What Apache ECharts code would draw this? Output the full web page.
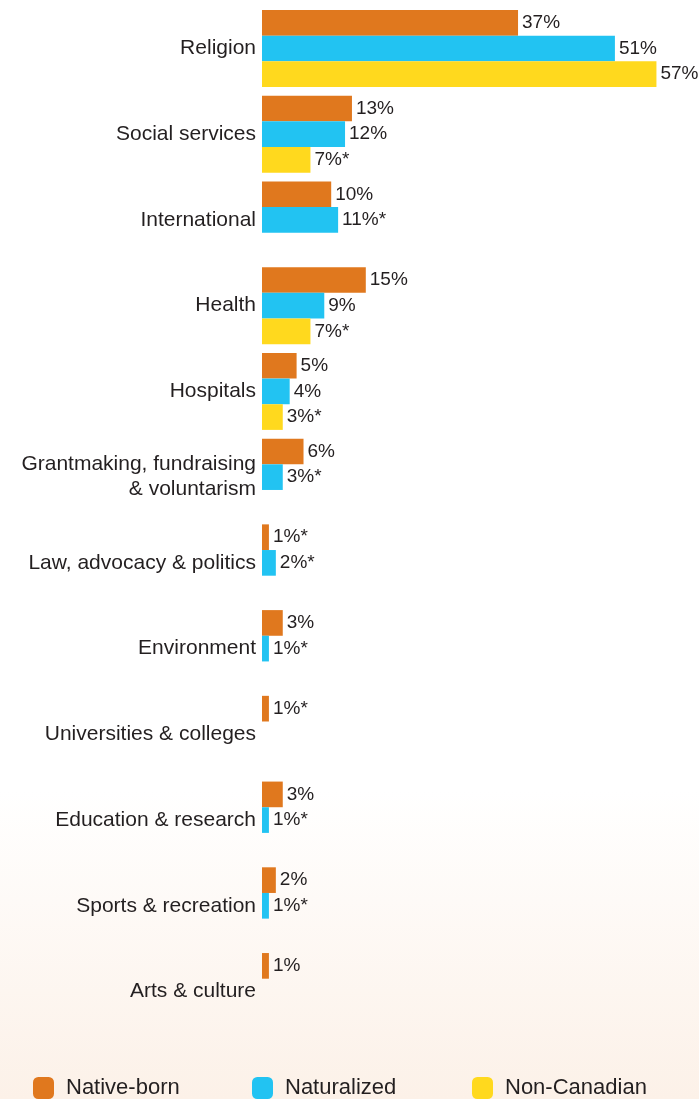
<!DOCTYPE html>
<html>
<head>
<meta charset="utf-8">
<script src="https://cdn.jsdelivr.net/npm/echarts@6/dist/echarts.min.js"></script>
<style>
html,body{margin:0;padding:0;width:699px;height:1099px;overflow:hidden;background:#fff;}
#chart{width:699px;height:1099px;}
</style>
</head>
<body>
<div id="chart"></div>
<script>
const categories = [
  "Religion",
  "Social services",
  "International",
  "Health",
  "Hospitals",
  "Grantmaking, fundraising\n& voluntarism",
  "Law, advocacy & politics",
  "Environment",
  "Universities & colleges",
  "Education & research",
  "Sports & recreation",
  "Arts & culture"
];
const seriesNames = ["Native-born", "Naturalized", "Non-Canadian"];
const nativeBorn   = [37, 13, 10, 15, 5, 6, 1, 3, 1, 3, 2, 1];
const naturalized  = [51, 12, 11, 9, 4, 3, 2, 1, null, 1, 1, null];
const nonCanadian  = [57, 7, null, 7, 3, null, null, null, null, null, null, null];
// asterisk flags (estimate with high sampling variability)
const nativeStar      = [0,0,0,0,0,0,1,0,1,0,0,0];
const naturalizedStar = [0,0,1,0,0,1,1,1,0,1,1,0];
const nonCanadianStar = [0,1,0,1,1,0,0,0,0,0,0,0];
const colors = ["#E0781E", "#22C3F2", "#FFD91E"];

const chart = echarts.init(document.getElementById('chart'), null, {renderer: 'canvas'});
const FONT = 'Arial, Helvetica, sans-serif';

function mkSeries(i, vals, stars) {
  return {
    name: seriesNames[i],
    type: 'bar',
    data: vals,
    itemStyle: {color: colors[i]},
    barGap: '0%',
    barCategoryGap: '10.2%',
    label: {
      show: true,
      position: 'right',
      distance: 4,
      color: '#231F20',
      fontFamily: FONT,
      fontSize: 19,
      formatter: p => p.value == null ? '' : (p.value + '%' + (stars[p.dataIndex] ? '*' : ''))
    },
    emphasis: {disabled: true},
    animation: false
  };
}

const legendBase = {
  top: 1077,
  padding: 0,
  itemWidth: 21,
  itemHeight: 22,
  icon: 'roundRect',
  textStyle: {fontSize: 22, fontFamily: FONT, color: '#231F20', padding: [0, 0, 0, 7]},
  selectedMode: false
};

chart.setOption({
  backgroundColor: {
    type: 'linear', x: 0, y: 0, x2: 0, y2: 1,
    colorStops: [
      {offset: 0, color: '#ffffff'},
      {offset: 0.72, color: '#ffffff'},
      {offset: 1, color: '#FCF1E8'}
    ]
  },
  animation: false,
  grid: {left: 262, right: 21.8, top: 5.6, bottom: 64.6, containLabel: false},
  xAxis: {
    type: 'value', min: 0, max: 60,
    show: false
  },
  yAxis: {
    type: 'category',
    data: categories,
    inverse: true,
    axisLine: {show: false},
    axisTick: {show: false},
    splitLine: {show: false},
    axisLabel: {
      margin: 6,
      color: '#231F20',
      fontFamily: FONT,
      fontSize: 21,
      lineHeight: 25,
      align: 'right'
    }
  },
  legend: [
    Object.assign({}, legendBase, {left: 33, data: [seriesNames[0]]}),
    Object.assign({}, legendBase, {left: 252, data: [seriesNames[1]]}),
    Object.assign({}, legendBase, {left: 472, data: [seriesNames[2]]})
  ],
  series: [
    mkSeries(0, nativeBorn, nativeStar),
    mkSeries(1, naturalized, naturalizedStar),
    mkSeries(2, nonCanadian, nonCanadianStar)
  ]
});
</script>
</body>
</html>
